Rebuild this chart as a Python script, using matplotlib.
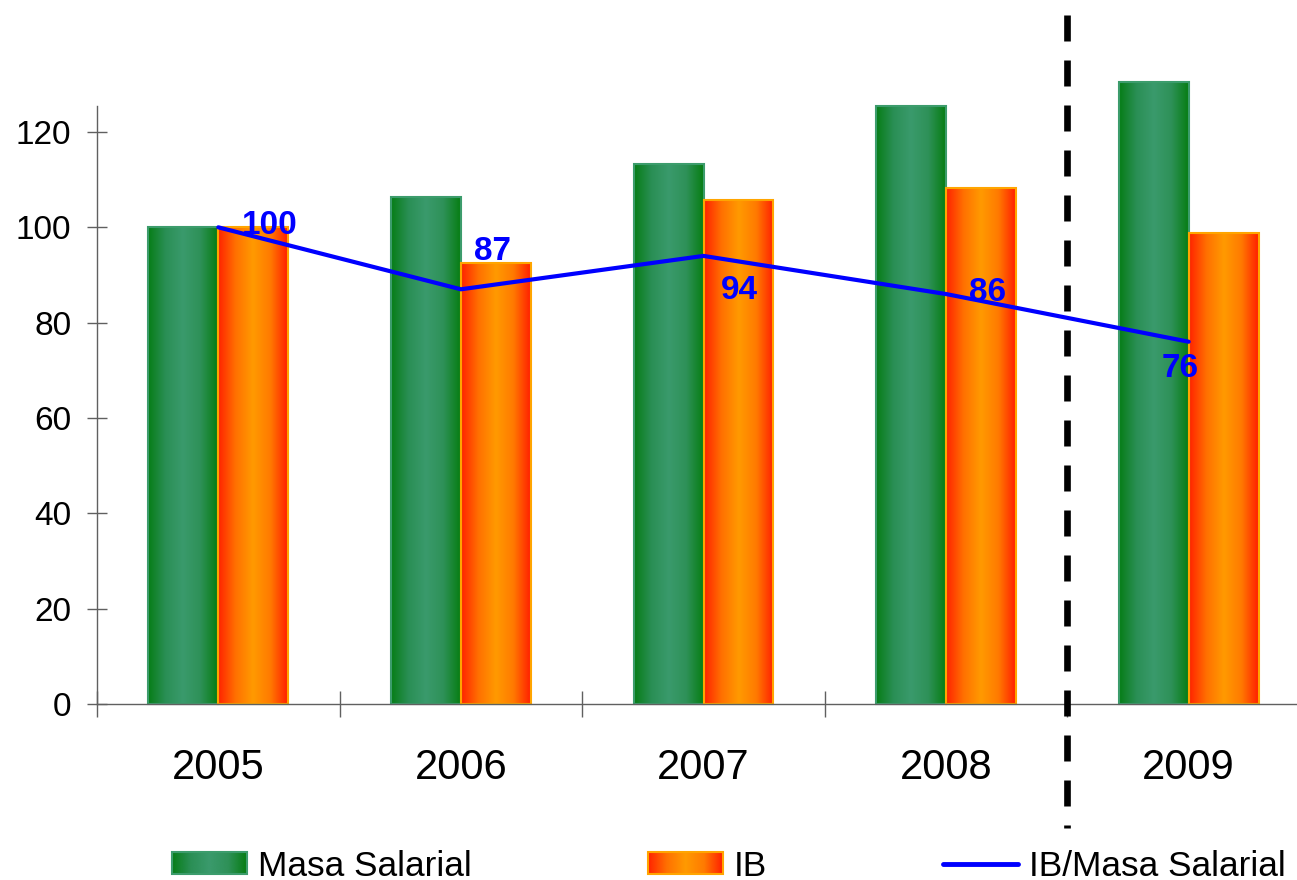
"""
Masa Salarial vs IB (index 2005 = 100), with IB/Masa Salarial ratio line.
"""

import numpy as np
import matplotlib
matplotlib.use("Agg")
import matplotlib.pyplot as plt
from matplotlib.colors import LinearSegmentedColormap
from matplotlib.legend_handler import HandlerBase
from matplotlib.image import BboxImage
from matplotlib.transforms import Bbox, TransformedBbox
from matplotlib.lines import Line2D
from matplotlib.patches import Rectangle

plt.rcParams["font.family"] = ["Liberation Sans", "DejaVu Sans"]

# data
years = ["2005", "2006", "2007", "2008", "2009"]
masa_salarial = [100, 106.4, 113.3, 125.4, 130.5]
ib = [100, 92.5, 105.7, 108.2, 98.8]
ratio = [100, 87, 94, 86, 76]
ratio_labels = ["100", "87", "94", "86", "76"]

# label offsets (points) relative to each ratio point
label_offsets = [(37, 1), (23, 27), (26, -25), (30, 1), (-6, -19)]

GREEN = LinearSegmentedColormap.from_list(
    "green", ["#067d16", "#2a8f55", "#3a9a6c", "#2e9158", "#067d12"])
ORANGE = LinearSegmentedColormap.from_list(
    "orange", ["#ff2200", "#ff7000", "#ff9a00", "#ff7a00", "#ff1e00"])
GRAD = np.linspace(0, 1, 256).reshape(1, -1)


def fill_gradient(ax, bars, cmap):
    for b in bars:
        x0, y0 = b.get_x(), b.get_y()
        im = ax.imshow(GRAD, cmap=cmap, aspect="auto", interpolation="bicubic",
                       extent=(x0, x0 + b.get_width(), y0, y0 + b.get_height()),
                       zorder=1.9)
        im.set_clip_path(b)


class GradientHandler(HandlerBase):
    def __init__(self, cmap, edge):
        super().__init__()
        self.cmap = cmap
        self.edge = edge

    def create_artists(self, legend, orig_handle, xdescent, ydescent,
                       width, height, fontsize, trans):
        box = Bbox.from_bounds(-xdescent, -ydescent, width, height)
        img = BboxImage(TransformedBbox(box, trans), cmap=self.cmap,
                        interpolation="bicubic")
        img.set_data(GRAD)
        rect = Rectangle((-xdescent, -ydescent), width, height,
                         facecolor="none", edgecolor=self.edge, lw=1.5,
                         transform=trans)
        return [img, rect]


fig = plt.figure(figsize=(12.97, 8.8), dpi=100)
ax = fig.add_axes([97 / 1297, 0.2, 1213 / 1297, 598 / 880])

x = np.arange(len(years))
w = 0.288
bars_m = ax.bar(x - w / 2, masa_salarial, w, facecolor="none",
                edgecolor="#3c9c6c", lw=1.5, zorder=2, clip_on=False)
bars_i = ax.bar(x + w / 2, ib, w, facecolor="none",
                edgecolor="#ffa500", lw=1.5, zorder=2, clip_on=False)
fill_gradient(ax, bars_m, GREEN)
fill_gradient(ax, bars_i, ORANGE)

line, = ax.plot(x, ratio, color="#0000ff", lw=3, zorder=5, clip_on=False,
                solid_capstyle="round")
for i, (v, lab) in enumerate(zip(ratio, ratio_labels)):
    ax.annotate(lab, (i, v), xytext=label_offsets[i], textcoords="offset points",
                ha="center", va="center", color="#0000ff", fontweight="bold",
                fontsize=24, zorder=6)

# separator before 2009, dashes start at the top
ax.plot([3.5, 3.5], [1.152, -0.207], transform=ax.get_xaxis_transform(),
        color="black", lw=4.8, linestyle=(0, (3.9, 2.85)), clip_on=False,
        zorder=6)

ax.set_xlim(-0.5, 4.5)
ax.set_ylim(0, 125.45)
ax.set_yticks(range(0, 121, 20))
ax.set_xticks(np.arange(-0.5, 5, 1))
ax.set_xticklabels([])
ax.set_xticks(x, years, minor=True)

for s in ["top", "right"]:
    ax.spines[s].set_visible(False)
for s in ["left", "bottom"]:
    ax.spines[s].set_color("#606060")
    ax.spines[s].set_linewidth(1)

ax.tick_params(axis="y", direction="inout", length=15, width=1,
               color="#606060", labelsize=24, pad=11)
ax.tick_params(axis="x", which="major", direction="inout", length=19,
               width=1, color="#606060")
ax.tick_params(axis="x", which="minor", length=0, labelsize=30, pad=32)

handles = [Rectangle((0, 0), 1, 1), Rectangle((0, 0), 1, 1),
           Line2D([], [], color="#0000ff", lw=3.5, solid_capstyle="round")]
fig.legend(handles, ["Masa Salarial", "IB", "IB/Masa Salarial"],
           handler_map={handles[0]: GradientHandler(GREEN, "#3c9c6c"),
                        handles[1]: GradientHandler(ORANGE, "#ffa500")},
           loc="center left", bbox_to_anchor=(172 / 1297, 1 - 866 / 880),
           ncol=3, frameon=False, fontsize=25.4, borderpad=0, borderaxespad=0,
           handlelength=2.12, handleheight=0.6, handletextpad=0.31,
           columnspacing=5.0)

fig.savefig("out.png", dpi=100)
